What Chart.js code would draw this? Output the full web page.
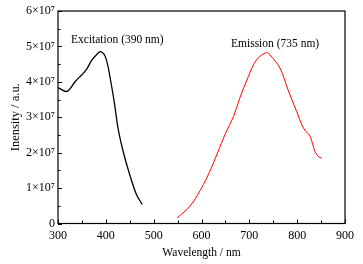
<!DOCTYPE html>
<html lang="en">
<head>
  <meta charset="UTF-8">
  <title>Excitation / Emission</title>
  <script src="https://cdn.jsdelivr.net/npm/chart.js"></script>
  <style>
    html, body { margin: 0; padding: 0; background: #fff; }
    #wrap { width: 363px; height: 264px; }
  </style>
</head>
<body>
  <div id="wrap"><canvas id="spectra"></canvas></div>
  <script>
    const excitationNm = [300, 319, 336, 350, 360, 370, 380, 389, 400, 411, 419, 426, 437, 451, 464, 476];
    const excitationVal = [3.84e7, 3.73e7, 4.01e7, 4.2e7, 4.36e7, 4.6e7, 4.76e7, 4.85e7, 4.67e7, 3.96e7, 3.3e7, 2.65e7, 1.99e7, 1.33e7, 0.82e7, 0.54e7];
    const emissionNm = [549, 576, 604, 625, 649, 667, 680, 698, 715, 736, 743, 764, 781, 799, 813, 827, 837, 845, 851];
    const emissionVal = [0.16e7, 0.49e7, 1.1e7, 1.71e7, 2.51e7, 3.02e7, 3.54e7, 4.15e7, 4.62e7, 4.83e7, 4.76e7, 4.39e7, 3.77e7, 3.16e7, 2.7e7, 2.46e7, 2.04e7, 1.88e7, 1.85e7];
    const yTickLabels = ['0', '1×10⁷', '2×10⁷', '3×10⁷', '4×10⁷', '5×10⁷', '6×10⁷'];
    const notes = [
      { text: 'Excitation (390 nm)', x: 71, y: 40 },
      { text: 'Emission (735 nm)', x: 231, y: 44 }
    ];

    const serif = '"Liberation Serif", "DejaVu Serif", serif';
    const toPoints = (xs, ys) => xs.map((x, i) => ({ x, y: ys[i] }));

    // frame, inward ticks (major + minor) and the two labels
    const framePlugin = {
      id: 'frame',
      afterDraw(chart) {
        const { ctx, chartArea: a, scales } = chart;
        ctx.save();
        ctx.strokeStyle = '#000';
        ctx.lineWidth = 1.2;
        ctx.strokeRect(a.left, a.top, a.right - a.left, a.bottom - a.top);
        ctx.lineWidth = 1;
        ctx.beginPath();
        for (let v = 300; v <= 900; v += 50) {
          const px = Math.round(scales.x.getPixelForValue(v)) + 0.5;
          const len = v % 100 === 0 ? 4 : 3;
          ctx.moveTo(px, a.bottom);
          ctx.lineTo(px, a.bottom - len);
        }
        for (let v = 0; v <= 6e7; v += 0.5e7) {
          const py = Math.round(scales.y.getPixelForValue(v)) + 0.5;
          const len = v % 1e7 === 0 ? 4 : 2.5;
          ctx.moveTo(a.left, py);
          ctx.lineTo(a.left + len, py);
        }
        ctx.stroke();
        ctx.fillStyle = '#000';
        ctx.font = '11.5px ' + serif;
        ctx.textBaseline = 'middle';
        notes.forEach(n => ctx.fillText(n.text, n.x, n.y));
        ctx.restore();
      }
    };

    new Chart(document.getElementById('spectra'), {
      type: 'scatter',
      data: {
        datasets: [
          { data: toPoints(excitationNm, excitationVal), showLine: true, borderColor: '#000', borderWidth: 1.3, pointRadius: 0, tension: 0.35 },
          { data: toPoints(emissionNm, emissionVal), showLine: true, borderColor: '#ff0000', borderWidth: 1, pointRadius: 0, tension: 0.35 }
        ]
      },
      options: {
        responsive: true,
        maintainAspectRatio: false,
        animation: false,
        layout: { padding: { top: 11, right: 18, left: 0, bottom: 0 } },
        plugins: { legend: { display: false }, tooltip: { enabled: false } },
        scales: {
          x: {
            type: 'linear', min: 300, max: 900,
            grid: { display: false, drawTicks: false },
            border: { display: false },
            ticks: { stepSize: 100, color: '#000', padding: 5, font: { family: serif, size: 12 } },
            title: { display: true, text: 'Wavelength / nm', color: '#000', padding: { top: 0, bottom: 4 }, font: { family: serif, size: 11.5 } },
            afterFit(s) { s.height = 40.5; }
          },
          y: {
            min: 0, max: 6e7,
            grid: { display: false, drawTicks: false },
            border: { display: false },
            ticks: {
              stepSize: 1e7, color: '#000', padding: 3, font: { family: serif, size: 12 },
              callback: (v) => yTickLabels[Math.round(v / 1e7)]
            },
            title: { display: true, text: 'Inensity / a.u.', color: '#000', padding: { top: 8, bottom: 0 }, font: { family: serif, size: 12.5 } },
            afterFit(s) { s.width = 58; }
          }
        }
      },
      plugins: [framePlugin]
    });
  </script>
</body>
</html>
